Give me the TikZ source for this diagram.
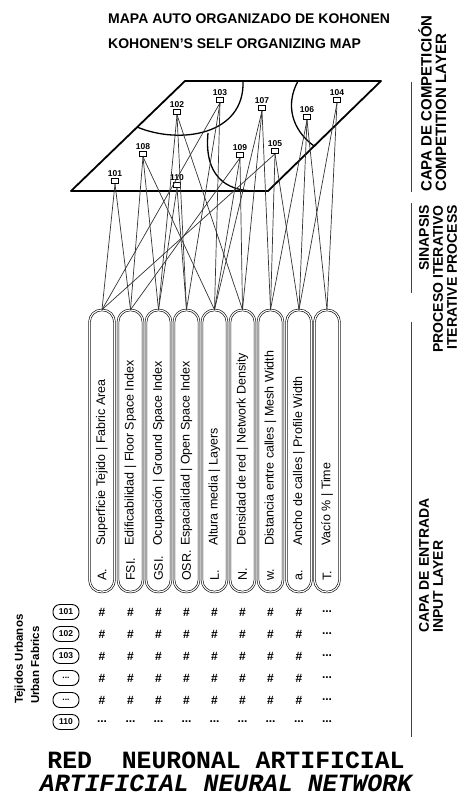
\documentclass[tikz,border=0pt]{standalone}
\usepackage{fontspec}
\setmainfont{Liberation Sans}
\newfontfamily\courierfont{Liberation Mono}
\newcommand{\tdots}{...}
\begin{document}
\begin{tikzpicture}[x=1pt,y=-1pt,
  conn/.style={draw=black!80, line width=0.7pt},
  neuron/.style={draw, line width=0.7pt, fill=white, minimum width=6.5pt, minimum height=5pt, inner sep=0pt},
  nlab/.style={font=\fontsize{8.5}{9}\selectfont\bfseries, inner sep=0.5pt},
  inbox/.style={draw, double, double distance=1.2pt, line width=0.6pt, rounded corners=12pt, minimum width=25pt, minimum height=282pt, inner sep=0pt},
  intext/.style={rotate=90, anchor=west, font=\fontsize{12.5}{13}\selectfont, inner sep=0pt},
  sidetext/.style={rotate=90, font=\fontsize{14}{15}\selectfont\bfseries, inner sep=0pt},
  rowlab/.style={draw, line width=0.9pt, rounded corners=7pt, minimum width=26pt, minimum height=15pt, inner sep=0pt, font=\fontsize{8.5}{9}\selectfont\bfseries},
  cell/.style={font=\fontsize{12}{13}\selectfont\bfseries, inner sep=0pt},
  bracket/.style={line width=1pt, draw=black!75},
  edge/.style={line width=1.8pt, line join=round},
  divide/.style={line width=1.3pt}
]
\useasboundingbox (0,0) rectangle (464,798);

% titles
\node[anchor=base west, font=\fontsize{14}{15}\selectfont\bfseries, inner sep=0pt] (t1) at (108,23) {MAPA AUTO ORGANIZADO DE KOHONEN};
\node[anchor=base west, font=\fontsize{14}{15}\selectfont\bfseries, inner sep=0pt] (t2) at (108,48) {KOHONEN'S SELF ORGANIZING MAP};

% competition layer (map)
\coordinate (pA) at (185,81);
\coordinate (pB) at (381,81);
\coordinate (pC) at (268,191);
\coordinate (pD) at (71,191);
\draw[edge] (pA) -- (pB) -- (pC) -- (pD) -- cycle;
\draw[divide] (137,127) .. controls (180,145) and (245,135) .. (243,81);
\draw[divide] (208,133) .. controls (204,175) and (225,191) .. (255,191);
\draw[divide] (298,81) .. controls (285,105) and (292,130) .. (314,146);

% neurons
\foreach \n/\t/\x/\y in {a/101/115/181, b/102/177/112, c/103/220/100, d/104/337/100,
                         e/105/275/151, f/106/307/117, g/107/262/108, h/108/143/154,
                         i/109/240/155, j/110/177/185}{
  \node[neuron, label={[nlab, label distance=0.5pt]above:\t}] (n\n) at (\x,\y) {};
}

% input boxes
\foreach \i/\x in {1/102,2/130.5,3/158.5,4/186.5,5/214.5,6/242.5,7/270.5,8/299,9/327}{
  \node[inbox] (b\i) at (\x,451) {};
}

% connections (synapses)
\foreach \n/\b in {a/1, a/2, h/2, h/5, h/3, j/3, j/4, b/3, b/4, b/6, c/1, c/5, c/4,
                   i/5, i/6, i/2, g/5, g/6, g/7, e/1, e/7, e/8, f/7, f/8, f/9, d/8, d/9}{
  \draw[conn] (n\n.south) -- (b\b.north);
}

% box texts
\foreach \i/\l/\t in {1/A./Superficie Tejido | Fabric Area,
                      2/FSI./Edificabilidad | Floor Space Index,
                      3/GSI./Ocupación | Ground Space Index,
                      4/OSR./Espacialidad | Open Space Index,
                      5/L./Altura media | Layers,
                      6/N./Densidad de red | Network Density,
                      7/w./Distancia entre calles | Mesh Width,
                      8/a./Ancho de calles | Profile Width,
                      9/T./Vacío \% | Time}{
  \node[intext] (l\i) at ([yshift=-130pt]b\i.center) {\l};
  \node[intext] (x\i) at ([yshift=-95pt]b\i.center) {\t};
}

% table of urban fabrics
\node[rotate=90, anchor=west, font=\fontsize{11.5}{12}\selectfont\bfseries, inner sep=0pt] (u1) at (20,704) {Tejidos Urbanos};
\node[rotate=90, anchor=west, font=\fontsize{11.5}{12}\selectfont\bfseries, inner sep=0pt] (u2) at (35,704) {Urban Fabrics};

\foreach \r/\y/\t in {1/612/101, 2/634/102, 3/656/103, 4/678/\tdots, 5/700/\tdots, 6/722/110}{
  \node[rowlab] (r\r) at (66,\y) {\t};
}
\foreach \r/\y in {1/612, 2/634, 3/656, 4/678, 5/700}{
  \foreach \x in {102,130.5,158.5,186.5,214.5,242.5,270.5,299}{
    \node[cell] at (\x,\y) {\#};
  }
  \node[cell] at (327,\y) {\tdots};
}
\foreach \x in {102,130.5,158.5,186.5,214.5,242.5,270.5,299,327}{
  \node[cell] at (\x,722) {\tdots};
}

% side labels
\node[sidetext, anchor=west, font=\fontsize{15}{16}\selectfont\bfseries] (c1) at (425,192) {CAPA DE COMPETICIÓN};
\node[sidetext, anchor=west, font=\fontsize{15}{16}\selectfont\bfseries] (c2) at (441,192) {COMPETITION LAYER};
\node[sidetext, anchor=east] (s1) at (424,205) {SINAPSIS};
\node[sidetext, anchor=east] (s2) at (438,205) {PROCESO ITERATIVO};
\node[sidetext, anchor=east] (s3) at (452,205) {ITERATIVE PROCESS};
\node[sidetext, anchor=west] (e1) at (424,633) {CAPA DE ENTRADA};
\node[sidetext, anchor=west] (e2) at (438,633) {INPUT LAYER};
\draw[bracket] (411,82) -- (411,192);
\draw[bracket] (411,203) -- (411,293);
\draw[bracket] (411,322) -- (411,737);

% bottom title
\node[anchor=base, inner sep=0pt, font=\courierfont\bfseries\fontsize{24.8}{26}\selectfont] (bt1) at (226,768) {RED\ \ NEURONAL ARTIFICIAL};
\node[anchor=base, inner sep=0pt, font=\courierfont\bfseries\itshape\fontsize{24.8}{26}\selectfont] (bt2) at (226,791) {ARTIFICIAL NEURAL NETWORK};
\end{tikzpicture}
\end{document}
